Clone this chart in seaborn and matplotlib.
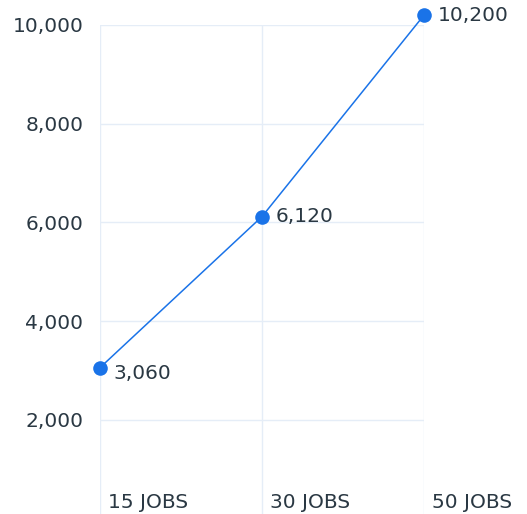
import matplotlib
matplotlib.use('Agg')
import matplotlib.pyplot as plt
import matplotlib.transforms as mtransforms
import seaborn as sns
import pandas as pd

jobs = ['15 JOBS', '30 JOBS', '50 JOBS']
values = [3060, 6120, 10200]
y_ticks = [2000, 4000, 6000, 8000, 10000]

BLUE = '#1a73e8'
TEXT = '#2a3843'
GRID = '#e5edf7'

sns.set_style('white')
plt.rcParams['font.family'] = ['DejaVu Sans']

df = pd.DataFrame({'pos': range(len(jobs)), 'value': values})

fig = plt.figure(figsize=(5.27, 5.14), dpi=100)
ax = fig.add_axes([100 / 527, 0, 324 / 527, 489 / 514])

sns.lineplot(data=df, x='pos', y='value', ax=ax, color=BLUE, linewidth=1.1,
             marker='o', markersize=10.5, markeredgewidth=0, clip_on=False, zorder=3)

ax.set_xlim(0, len(jobs) - 1)
ax.set_ylim(96, 10000)
ax.set_xticks(range(len(jobs)))
ax.set_yticks(y_ticks)
ax.set_yticklabels([f'{v:,}' for v in y_ticks], color=TEXT, fontsize=14.5)
ax.tick_params(axis='y', length=0, pad=12)
ax.tick_params(axis='x', length=0, labelbottom=False)
ax.grid(True, color=GRID, linewidth=1)
for s in ax.spines.values():
    s.set_visible(False)
ax.set_xlabel('')
ax.set_ylabel('')

# category labels sit inside the plot, just right of each grid line
trans = mtransforms.blended_transform_factory(ax.transData, ax.transAxes)
for i, lab in enumerate(jobs):
    ax.annotate(lab, (i, 0.024), xycoords=trans, xytext=(6, 0),
                textcoords='offset points', ha='left', va='center',
                color=TEXT, fontsize=14.5, annotation_clip=False)

for i, v in enumerate(values):
    ax.annotate(f'{v:,}', (i, v), xytext=(10, -4 if i == 0 else 0),
                textcoords='offset points', ha='left', va='center',
                color=TEXT, fontsize=14.5, annotation_clip=False)

fig.savefig('out.png', dpi=100)
